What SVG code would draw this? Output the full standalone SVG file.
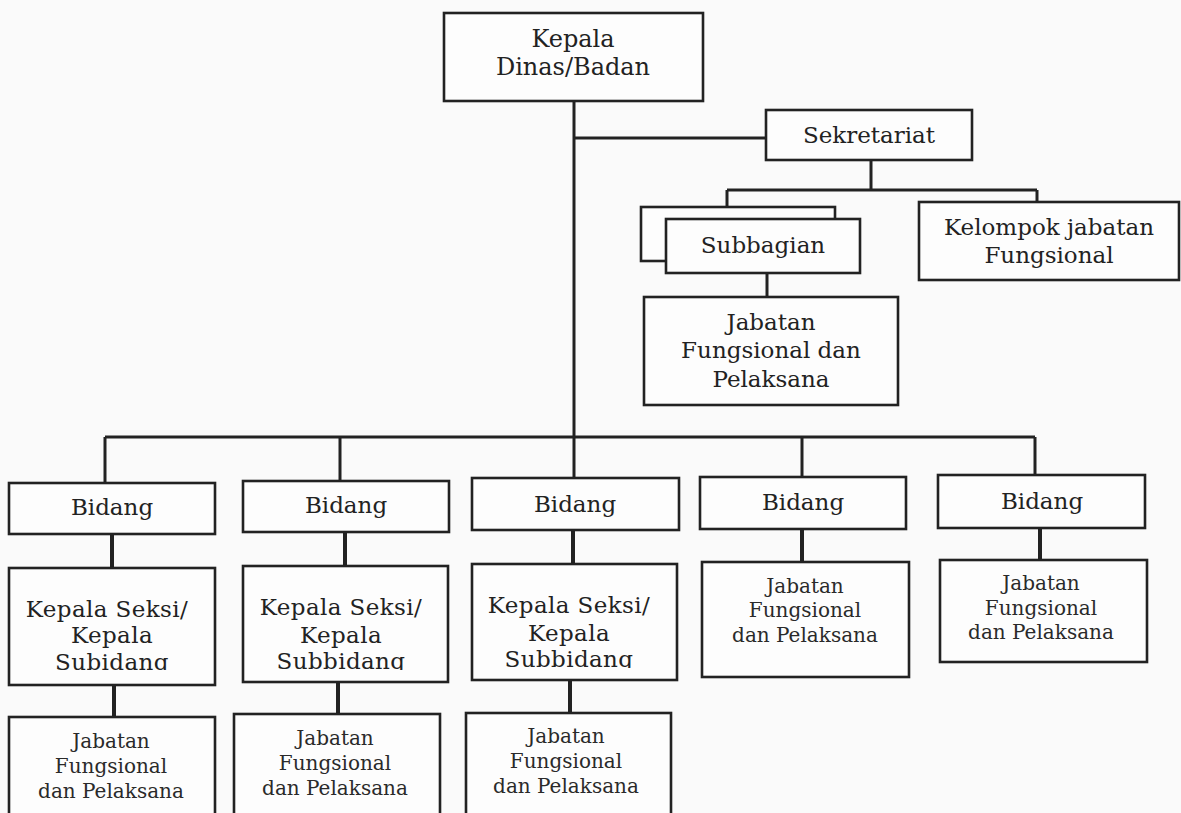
<svg xmlns="http://www.w3.org/2000/svg" width="1181" height="813" viewBox="0 0 1181 813">
<style>
.box{fill:#fdfdfd;stroke:#222;stroke-width:2.6}
.ln{fill:none;stroke:#222;stroke-width:3}
.thk{fill:none;stroke:#222;stroke-width:4}
.t{font-family:"DejaVu Serif","Liberation Serif",serif;font-size:23px;fill:#222;text-anchor:middle}
.s{font-family:"DejaVu Serif","Liberation Serif",serif;font-size:20px;fill:#2a2a2a;text-anchor:middle}
.k{font-size:24px}
.ks{letter-spacing:0.4px}
</style>
<defs>
<clipPath id="c1"><rect x="0" y="0" width="1181" height="670"/></clipPath>
<clipPath id="c3"><rect x="0" y="0" width="1181" height="668"/></clipPath>
</defs>
<rect x="0" y="0" width="1181" height="813" fill="#fafafa"/>
<g id="connectors">
<path class="ln" d="M574 101 V478"/>
<path class="ln" d="M574 138 H766"/>
<path class="ln" d="M871 160 V190 M727 190 H1037 M727 190 V207 M1037 190 V202"/>
<path class="ln" d="M767 273 V297"/>
<path class="ln" d="M105 437 H1035 M105 437 V483 M340 437 V481 M802 437 V477 M1035 437 V475"/>
<path class="thk" d="M112 534 V568 M114 685 V717"/>
<path class="thk" d="M345 532 V566 M338 682 V714"/>
<path class="thk" d="M573 530 V564 M570 680 V713"/>
<path class="thk" d="M802 529 V562"/>
<path class="thk" d="M1040 528 V560"/>
</g>
<g id="kepala">
<rect class="box" x="444" y="13" width="259" height="88"/>
<text class="t k" x="573" y="47">Kepala</text>
<text class="t k" x="573" y="75">Dinas/Badan</text>
</g>
<g id="sekretariat">
<rect class="box" x="766" y="110" width="206" height="50"/>
<text class="t" x="869" y="143">Sekretariat</text>
</g>
<g id="subbagian">
<rect class="box" x="641" y="207" width="194" height="54"/>
<rect class="box" x="666" y="219" width="194" height="54"/>
<text class="t" x="763" y="253">Subbagian</text>
</g>
<g id="kelompok">
<rect class="box" x="919" y="202" width="260" height="78"/>
<text class="t" x="1049" y="235">Kelompok jabatan</text>
<text class="t" x="1049" y="263">Fungsional</text>
</g>
<g id="jabatan-sek">
<rect class="box" x="644" y="297" width="254" height="108"/>
<text class="t" x="771" y="330">Jabatan</text>
<text class="t" x="771" y="358">Fungsional dan</text>
<text class="t" x="771" y="387">Pelaksana</text>
</g>
<g id="bidang1">
<rect class="box" x="9" y="483" width="206" height="51"/>
<text class="t" x="112" y="515">Bidang</text>
</g>
<g id="bidang2">
<rect class="box" x="243" y="481" width="206" height="51"/>
<text class="t" x="346" y="513">Bidang</text>
</g>
<g id="bidang3">
<rect class="box" x="472" y="478" width="207" height="52"/>
<text class="t" x="575" y="512">Bidang</text>
</g>
<g id="bidang4">
<rect class="box" x="700" y="477" width="206" height="52"/>
<text class="t" x="803" y="510">Bidang</text>
</g>
<g id="bidang5">
<rect class="box" x="938" y="475" width="207" height="53"/>
<text class="t" x="1042" y="509">Bidang</text>
</g>
<g id="kasi1">
<rect class="box" x="9" y="568" width="206" height="117"/>
<text class="t ks" x="107" y="617">Kepala Seksi/</text>
<text class="t ks" x="112" y="643">Kepala</text>
<text class="t ks" x="112" y="670" clip-path="url(#c1)">Subidang</text>
</g>
<g id="kasi2">
<rect class="box" x="243" y="566" width="205" height="116"/>
<text class="t ks" x="341" y="615">Kepala Seksi/</text>
<text class="t ks" x="341" y="643">Kepala</text>
<text class="t ks" x="341" y="669" clip-path="url(#c1)">Subbidang</text>
</g>
<g id="kasi3">
<rect class="box" x="472" y="564" width="205" height="116"/>
<text class="t ks" x="569" y="613">Kepala Seksi/</text>
<text class="t ks" x="569" y="641">Kepala</text>
<text class="t ks" x="569" y="667" clip-path="url(#c3)">Subbidang</text>
</g>
<g id="jf1">
<rect class="box" x="9" y="717" width="206" height="120"/>
<text class="s" x="111" y="748">Jabatan</text>
<text class="s" x="111" y="773">Fungsional</text>
<text class="s" x="111" y="798">dan Pelaksana</text>
</g>
<g id="jf2">
<rect class="box" x="234" y="714" width="206" height="120"/>
<text class="s" x="335" y="745">Jabatan</text>
<text class="s" x="335" y="770">Fungsional</text>
<text class="s" x="335" y="795">dan Pelaksana</text>
</g>
<g id="jf3">
<rect class="box" x="466" y="713" width="205" height="120"/>
<text class="s" x="566" y="743">Jabatan</text>
<text class="s" x="566" y="768">Fungsional</text>
<text class="s" x="566" y="793">dan Pelaksana</text>
</g>
<g id="jf4">
<rect class="box" x="702" y="562" width="207" height="115"/>
<text class="s" x="805" y="593">Jabatan</text>
<text class="s" x="805" y="617">Fungsional</text>
<text class="s" x="805" y="642">dan Pelaksana</text>
</g>
<g id="jf5">
<rect class="box" x="940" y="560" width="207" height="102"/>
<text class="s" x="1041" y="590">Jabatan</text>
<text class="s" x="1041" y="615">Fungsional</text>
<text class="s" x="1041" y="639">dan Pelaksana</text>
</g>
</svg>
